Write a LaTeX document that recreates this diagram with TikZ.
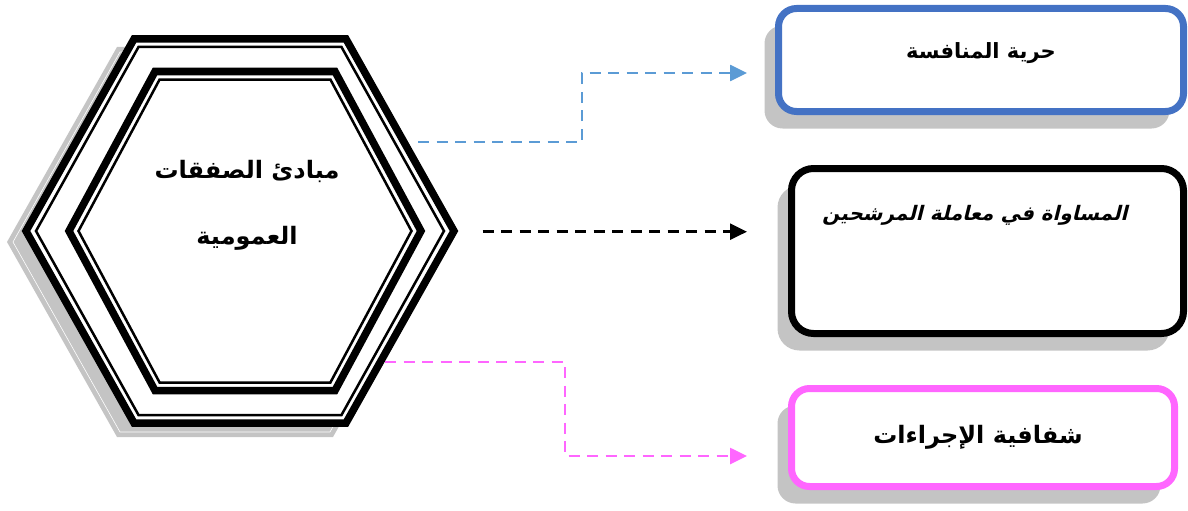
\documentclass[tikz,border=0pt]{standalone}
\usepackage{fontspec}
\usetikzlibrary{arrows.meta,shadows}
\TeXXeTstate=1
\newfontfamily\arabicfont[Script=Arabic]{DejaVu Sans}
\newfontfamily\arabicslant[Script=Arabic,FakeSlant=0.25]{DejaVu Sans}
\definecolor{boxblue}{HTML}{4472C4}
\definecolor{lineblue}{HTML}{5B9BD5}
\definecolor{boxpink}{HTML}{FF66FF}
\definecolor{shadowgray}{HTML}{C4C4C4}

\begin{document}
\begin{tikzpicture}[x=1pt,y=-1pt]
\tikzstyle{box}=[draw,line width=7pt,rounded corners=18pt,fill=white,inner sep=0pt,
  drop shadow={shadow xshift=-14pt,shadow yshift=-17pt,opacity=1,fill=shadowgray}];
\tikzstyle{boxtext}=[font=\arabicfont\bfseries\fontsize{21}{26}\selectfont];
\tikzstyle{link}=[line width=2.6pt,dash pattern=on 11pt off 7.5pt,-{Triangle[length=17pt,width=16pt]}];
\useasboundingbox (0,0) rectangle (1188,511);

% hexagon with its shadow
\fill[shadowgray] (7,242) -- (117,47) -- (333,47) -- (443,242) -- (333,437) -- (117,437) -- cycle;
\draw[white,line width=0.6pt] (13,242) -- (120,52) -- (330,52) -- (437,242) -- (330,432) -- (120,432) -- cycle;
\fill[white] (26,231) -- (134,39) -- (346,39) -- (454,231) -- (346,423) -- (134,423) -- cycle;
\draw[line width=7.5pt] (26,231) -- (134,39) -- (346,39) -- (454,231) -- (346,423) -- (134,423) -- cycle;
\draw[line width=2.5pt] (36,231) -- (138.5,47) -- (341.5,47) -- (444,231) -- (341.5,415) -- (138.5,415) -- cycle;
\draw[line width=7.5pt] (69,231) -- (155,71.5) -- (335,71.5) -- (421,231) -- (335,390.5) -- (155,390.5) -- cycle;
\draw[line width=2.5pt] (78.5,231) -- (159.6,79.5) -- (330.4,79.5) -- (411.5,231) -- (330.4,382.5) -- (159.6,382.5) -- cycle;
\node[font=\arabicfont\bfseries\fontsize{24}{66}\selectfont,align=center] (principles) at (247,205)
  {\beginR مبادئ الصفقات\endR\\\beginR العمومية\endR};

% the three boxes
\node[box,draw=boxblue,minimum width=405pt,minimum height=103pt] (compbox) at (981,60) {};
\node[boxtext] (comptext) at ([yshift=7pt]compbox) {\beginR حرية المنافسة\endR};
\node[box,draw=black,rounded corners=22pt,minimum width=392pt,minimum height=165pt] (equalbox) at (987.5,251) {};
\node[boxtext,font=\arabicslant\bfseries\fontsize{20}{26}\selectfont] (equaltext) at ([xshift=-12.5pt,yshift=36pt]equalbox) {\beginR المساواة في معاملة المرشحين\endR};
\node[box,draw=boxpink,minimum width=383pt,minimum height=98pt] (transpbox) at (983,437.5) {};
\node[boxtext,font=\arabicfont\bfseries\fontsize{24}{28}\selectfont] (transptext) at ([xshift=-5pt]transpbox) {\beginR شفافية الإجراءات\endR};

% connectors
\coordinate (compfrom) at (418,142);
\coordinate (compto) at (747,73);
\coordinate (equalfrom) at (482.7,231.7);
\coordinate (equalto) at (747,231.7);
\coordinate (transpfrom) at (385,362);
\coordinate (transpto) at (747,456);
\draw[link,lineblue] (compfrom) -- ++(164,0) |- (compto);
\draw[link,black] (equalfrom) -- (equalto);
\draw[link,boxpink] (transpfrom) -- ++(180,0) |- (transpto);
\end{tikzpicture}
\end{document}
